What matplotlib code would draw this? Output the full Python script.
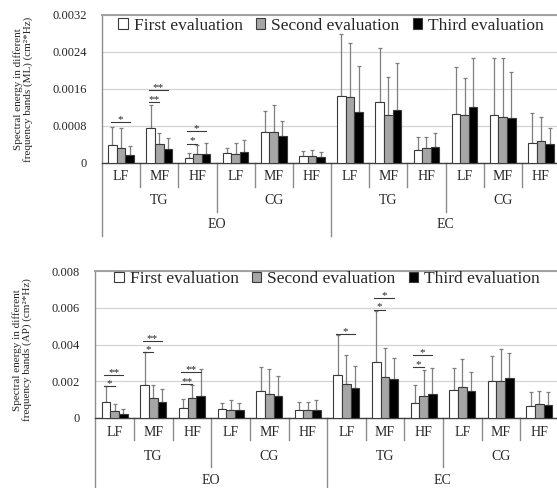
import matplotlib
matplotlib.use('Agg')
import matplotlib.pyplot as plt
import numpy as np

plt.rcParams['font.family'] = ['Liberation Serif', 'DejaVu Serif']

# 分组（EO/EC -> TG/CG -> LF/MF/HF）
bands = ['LF', 'MF', 'HF'] * 4
groups = ['TG', 'CG', 'TG', 'CG']
conditions = ['EO', 'EC']
series_names = ['First evaluation', 'Second evaluation', 'Third evaluation']

# ML 均值与标准差
ml_first = [0.00038, 0.00074, 0.00010, 0.00020, 0.00066, 0.00014,
            0.00144, 0.00130, 0.00028, 0.00104, 0.00102, 0.00043]
ml_first_sd = [0.00038, 0.00051, 0.00011, 0.00012, 0.00045, 0.00010,
               0.00135, 0.00117, 0.00027, 0.00102, 0.00125, 0.00064]
ml_second = [0.00032, 0.00039, 0.00018, 0.00018, 0.00066, 0.00014,
             0.00141, 0.00102, 0.00031, 0.00102, 0.00099, 0.00046]
ml_second_sd = [0.00042, 0.00024, 0.00020, 0.00025, 0.00058, 0.00013,
                0.00117, 0.00083, 0.00024, 0.00082, 0.00128, 0.00052]
ml_third = [0.00017, 0.00030, 0.00018, 0.00023, 0.00057, 0.00012,
            0.00109, 0.00113, 0.00034, 0.00121, 0.00096, 0.00039]
ml_third_sd = [0.00018, 0.00024, 0.00025, 0.00026, 0.00033, 0.00010,
               0.00101, 0.00103, 0.00030, 0.00106, 0.00099, 0.00036]

# AP 均值与标准差
ap_first = [0.00085, 0.00181, 0.00052, 0.00047, 0.00145, 0.00043,
            0.00233, 0.00304, 0.00080, 0.00152, 0.00199, 0.00067]
ap_first_sd = [0.00091, 0.00176, 0.00051, 0.00033, 0.00134, 0.00046,
               0.00216, 0.00279, 0.00097, 0.00121, 0.00136, 0.00072]
ap_second = [0.00040, 0.00110, 0.00110, 0.00043, 0.00130, 0.00043,
             0.00183, 0.00221, 0.00120, 0.00167, 0.00201, 0.00074]
ap_second_sd = [0.00036, 0.00067, 0.00071, 0.00055, 0.00136, 0.00046,
                0.00161, 0.00159, 0.00142, 0.00153, 0.00177, 0.00073]
ap_third = [0.00024, 0.00085, 0.00120, 0.00042, 0.00121, 0.00042,
            0.00161, 0.00210, 0.00130, 0.00147, 0.00215, 0.00072]
ap_third_sd = [0.00023, 0.00071, 0.00148, 0.00038, 0.00107, 0.00058,
               0.00121, 0.00116, 0.00141, 0.00106, 0.00141, 0.00067]

# 显著性标记: (组, 起始柱, 结束柱, 高度, 标记)
ml_sig = [(0, 0, 2, 0.00088, '*'), (1, 0, 1, 0.00130, '**'), (1, 0, 2, 0.00156, '**'),
          (2, 0, 1, 0.00041, '*'), (2, 0, 2, 0.00069, '*')]
ap_sig = [(0, 0, 1, 0.00176, '*'), (0, 0, 2, 0.00232, '**'),
          (1, 0, 1, 0.00357, '*'), (1, 0, 2, 0.00420, '**'),
          (2, 0, 1, 0.00185, '**'), (2, 0, 2, 0.00250, '**'),
          (6, 0, 2, 0.00456, '*'), (7, 0, 1, 0.00590, '*'), (7, 0, 2, 0.00653, '*'),
          (8, 0, 1, 0.00279, '*'), (8, 0, 2, 0.00344, '*')]

ml_ticks = [0, 0.0008, 0.0016, 0.0024, 0.0032]
ml_ticklabels = ['0', '0.0008', '0.0016', '0.0024', '0.0032']
ap_ticks = [0, 0.002, 0.004, 0.006, 0.008]
ap_ticklabels = ['0', '0.002', '0.004', '0.006', '0.008']

FIG_W, FIG_H = 557, 488
colors = ['white', '#a6a6a6', 'black']
bar_w = 0.225
text_color = '#262626'


def draw_panel(ax, means, sds, sig, ticks, ticklabels, ax_h_px, offs, leg_y):
    x = np.arange(12) + 0.5
    for k in range(3):
        pos = x + (k - 1) * bar_w
        ax.bar(pos, means[k], bar_w, color=colors[k], edgecolor='#3a3a3a',
               linewidth=0.8, label=series_names[k], zorder=3)
        ax.errorbar(pos, means[k], yerr=[np.zeros(12), sds[k]], fmt='none',
                    ecolor='#7f7f7f', elinewidth=0.9, capsize=1.6, capthick=0.9,
                    zorder=2)

    # 显著性线和星号
    for g, b0, b1, y, lab in sig:
        x0 = g + 0.5 + (b0 - 1) * bar_w - 0.05
        x1 = g + 0.5 + (b1 - 1) * bar_w
        ax.plot([x0, x1], [y, y], color='#3a3a3a', lw=0.8, zorder=4)
        ax.annotate(lab, ((x0 + x1) / 2, y), xytext=(0, 0), textcoords='offset points',
                    ha='center', va='baseline', fontsize=8, color=text_color)

    ax.set_xlim(0, 12)
    ax.set_ylim(ticks[0], ticks[-1])
    ax.set_yticks(ticks)
    ax.set_yticklabels(ticklabels, fontsize=9, color=text_color)
    ax.tick_params(axis='y', length=0, pad=11)
    ax.set_xticks([])
    ax.grid(axis='y', color='#d4d4d4', lw=0.9, zorder=0)
    ax.spines['left'].set_visible(False)
    ax.spines['right'].set_visible(False)
    ax.spines['top'].set_color('#a0a0a0')
    ax.spines['top'].set_linewidth(1.4)
    ax.spines['bottom'].set_color('#404040')
    ax.spines['bottom'].set_linewidth(1.0)

    # 多级分类轴
    tr = ax.get_xaxis_transform()
    lab1, lab2, lab3, sep1, sep2, sep3 = [v / ax_h_px for v in offs]
    for i in range(12):
        ax.text(i + 0.5, -lab1, bands[i], transform=tr, ha='center', va='center',
                fontsize=10, color=text_color)
    for i in range(4):
        ax.text(i * 3 + 1.5, -lab2, groups[i], transform=tr, ha='center', va='center',
                fontsize=10, color=text_color)
    for i in range(2):
        ax.text(i * 6 + 3, -lab3, conditions[i], transform=tr, ha='center', va='center',
                fontsize=10, color=text_color)
    for i in range(1, 12):
        if i == 6:
            y1 = -sep3
        elif i % 3 == 0:
            y1 = -sep2
        else:
            y1 = -sep1
        ax.plot([i, i], [0, y1], transform=tr, color='#8c8c8c', lw=1.0, clip_on=False)
    ax.plot([0, 0], [1, -sep3], transform=tr, color='#8c8c8c', lw=1.0, clip_on=False)

    leg = ax.legend(loc='upper center', bbox_to_anchor=(0.5, leg_y), ncol=3, frameon=False,
                    fontsize=12.5, handlelength=0.55, handleheight=0.55,
                    handletextpad=0.35, columnspacing=0.75, borderaxespad=0.2)
    for t in leg.get_texts():
        t.set_color(text_color)


fig = plt.figure(figsize=(FIG_W / 100, FIG_H / 100), dpi=100)

# 上图 (ML)
top_l, top_r, top_t, top_b = 102, 560, 14.7, 162.5
ax1 = fig.add_axes([top_l / FIG_W, 1 - top_b / FIG_H,
                    (top_r - top_l) / FIG_W, (top_b - top_t) / FIG_H])
draw_panel(ax1, [ml_first, ml_second, ml_third], [ml_first_sd, ml_second_sd, ml_third_sd],
           ml_sig, ml_ticks, ml_ticklabels, top_b - top_t,
           (13.5, 38.5, 62.5, 24, 49, 73), 1.05)

# 下图 (AP)
bot_l, bot_r, bot_t, bot_b = 95.5, 558.7, 271, 418
ax2 = fig.add_axes([bot_l / FIG_W, 1 - bot_b / FIG_H,
                    (bot_r - bot_l) / FIG_W, (bot_b - bot_t) / FIG_H])
draw_panel(ax2, [ap_first, ap_second, ap_third], [ap_first_sd, ap_second_sd, ap_third_sd],
           ap_sig, ap_ticks, ap_ticklabels, bot_b - bot_t,
           (14, 39, 62, 22, 49, 72), 1.07)

fig.text(23 / FIG_W, 1 - 89 / FIG_H,
         'Spectral energy in different\nfrequency bands (ML) (cm²*Hz)',
         rotation=90, ha='center', va='center', multialignment='center',
         fontsize=8, color=text_color, linespacing=1.05)
fig.text(22 / FIG_W, 1 - 350 / FIG_H,
         'Spectral energy in different\nfrequency bands (AP) (cm²*Hz)',
         rotation=90, ha='center', va='center', multialignment='center',
         fontsize=8, color=text_color, linespacing=1.05)

fig.savefig('out.png', dpi=100)
